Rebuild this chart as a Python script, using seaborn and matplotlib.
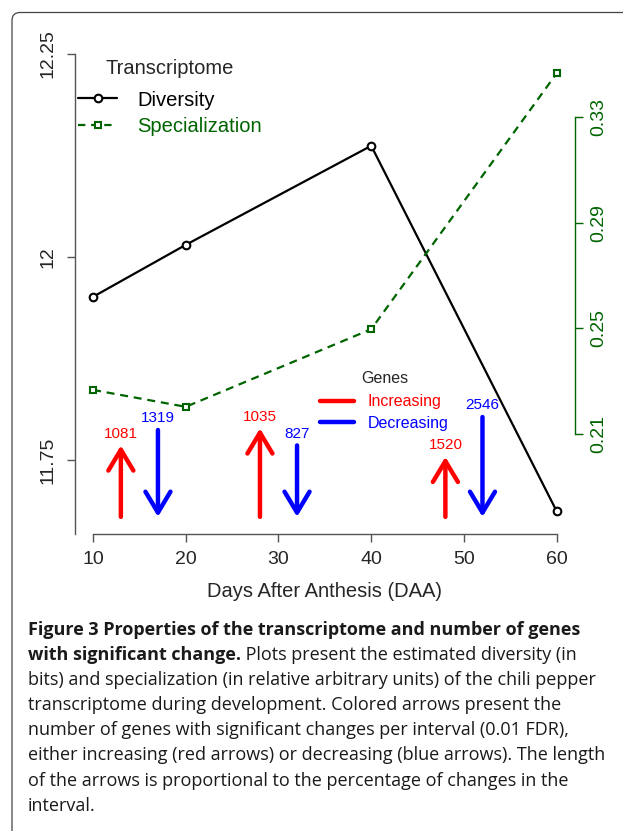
import numpy as np
import pandas as pd
import matplotlib
matplotlib.use("Agg")
import matplotlib.pyplot as plt
import seaborn as sns
from matplotlib.lines import Line2D
from matplotlib.patches import FancyBboxPatch
from matplotlib.transforms import IdentityTransform

# data
days = [10, 20, 40, 60]
diversity = [11.951, 12.015, 12.137, 11.687]
specialization = [0.2267, 0.2203, 0.2497, 0.3466]

inc_x = [13, 28, 48]
inc_n = [1081, 1035, 1520]
inc_top = [11.768, 11.789, 11.754]
dec_x = [17, 32, 52]
dec_n = [1319, 827, 2546]
dec_top = [11.787, 11.768, 11.803]
arrow_base = 11.680

left_ticks = [11.75, 12, 12.25]
left_labels = ["11.75", "12", "12.25"]
right_ticks = [0.21, 0.25, 0.29, 0.33]
right_labels = ["0.21", "0.25", "0.29", "0.33"]

caption = [
    ("Figure 3 Properties of the transcriptome and number of genes", ""),
    ("with significant change.", " Plots present the estimated diversity (in"),
    ("", "bits) and specialization (in relative arbitrary units) of the chili pepper"),
    ("", "transcriptome during development. Colored arrows present the"),
    ("", "number of genes with significant changes per interval (0.01 FDR),"),
    ("", "either increasing (red arrows) or decreasing (blue arrows). The length"),
    ("", "of the arrows is proportional to the percentage of changes in the"),
    ("", "interval."),
]

GREEN = "#006400"
W, H = 623, 831

sns.set_theme(style="white")
plt.rcParams["font.family"] = ["Liberation Sans", "DejaVu Sans"]

df = pd.DataFrame({"day": days, "div": diversity, "spec": specialization})

fig = plt.figure(figsize=(W / 100, H / 100), dpi=100)
ax = fig.add_axes([74.5 / W, 1 - 534 / H, (575.2 - 74.5) / W, (534 - 30) / H])
ax.set_facecolor("none")

sns.lineplot(data=df, x="day", y="div", ax=ax, color="black", lw=1.6,
             marker="o", markersize=5.5, markerfacecolor="white",
             markeredgecolor="black", markeredgewidth=1.5)
ax.set_xlim(8, 62)
ax.set_ylim(11.6589, 12.2796)

ax2 = ax.twinx()
sns.lineplot(data=df, x="day", y="spec", ax=ax2, color=GREEN, lw=1.6,
             marker="s", markersize=5, markerfacecolor="white",
             markeredgecolor=GREEN, markeredgewidth=1.5)
ax2.lines[0].set_dashes([3.6, 2.6])
ax2.set_ylim(0.17212, 0.36303)
ax2.set_xlim(8, 62)

for a in (ax, ax2):
    a.set_ylabel("")
    a.spines["top"].set_visible(False)
ax.spines["right"].set_visible(False)
ax2.spines["left"].set_visible(False)
ax2.spines["bottom"].set_visible(False)

ax.spines["left"].set_bounds(11.6589, 12.25)
ax.spines["bottom"].set_bounds(10, 60)
ax2.spines["right"].set_bounds(0.21, 0.33)
for s in ("left", "bottom"):
    ax.spines[s].set_color("#555555")
    ax.spines[s].set_linewidth(1.0)
ax2.spines["right"].set_color(GREEN)
ax2.spines["right"].set_linewidth(1.0)

ax.set_xticks([10, 20, 30, 40, 50, 60])
ax.set_xticklabels(["10", "20", "30", "40", "50", "60"])
ax.set_yticks(left_ticks)
ax.set_yticklabels(left_labels, rotation=90, va="center")
ax2.set_yticks(right_ticks)
ax2.set_yticklabels(right_labels, rotation=90, va="center", color=GREEN)
ax.tick_params(axis="both", which="both", length=6, width=1.0, color="#555555",
               labelsize=14, direction="out", left=True, bottom=True)
ax.tick_params(axis="y", pad=7)
ax.tick_params(axis="x", pad=6)
ax2.tick_params(axis="y", length=6, width=1.0, color=GREEN, labelsize=14,
                direction="out", right=True, pad=5, labelcolor=GREEN)
ax.set_xlabel("Days After Anthesis (DAA)", fontsize=14.5, labelpad=10)

# arrows for genes with significant change
for x, n, top in zip(inc_x, inc_n, inc_top):
    ax.annotate("", xy=(x, top), xytext=(x, arrow_base),
                arrowprops=dict(arrowstyle="->,head_length=0.75,head_width=0.45",
                                lw=3.2, color="red", shrinkA=0, shrinkB=0,
                                mutation_scale=20))
    ax.annotate(str(n), xy=(x, top), xytext=(0, 5.5), textcoords="offset points",
                ha="center", va="baseline", color="red", fontsize=11)
for x, n, top in zip(dec_x, dec_n, dec_top):
    ax.annotate("", xy=(x, arrow_base), xytext=(x, top),
                arrowprops=dict(arrowstyle="->,head_length=0.75,head_width=0.45",
                                lw=3.2, color="blue", shrinkA=0, shrinkB=0,
                                mutation_scale=20))
    ax.annotate(str(n), xy=(x, top), xytext=(0, 5.5), textcoords="offset points",
                ha="center", va="baseline", color="blue", fontsize=11)

# legends
h1 = Line2D([], [], color="black", lw=1.6, marker="o", markersize=5.5,
            markerfacecolor="white", markeredgewidth=1.5)
h2 = Line2D([], [], color=GREEN, lw=1.6, ls=(0, (3.3, 2.6)), marker="s", markersize=5,
            markerfacecolor="white", markeredgewidth=1.5)
leg1 = ax2.legend([h1, h2], ["Diversity", "Specialization"], title="Transcriptome",
                  loc="upper left", bbox_to_anchor=(78 / W, 1 - 59 / H),
                  bbox_transform=fig.transFigure, frameon=False, fontsize=14.5,
                  title_fontsize=14.5, handlelength=1.95, handletextpad=1.0,
                  labelspacing=0.36, borderpad=0, borderaxespad=0)
for t, c in zip(leg1.get_texts(), ["black", GREEN]):
    t.set_color(c)
leg1._legend_box.sep = 9

g1 = Line2D([], [], color="red", lw=3.2)
g2 = Line2D([], [], color="blue", lw=3.2)
leg2 = ax.legend([g1, g2], ["Increasing", "Decreasing"], title="Genes",
                 loc="upper left", bbox_to_anchor=(320 / W, 1 - 371 / H),
                 bbox_transform=fig.transFigure, frameon=False, fontsize=11.5,
                 title_fontsize=11.5, handlelength=2.1, handletextpad=0.9,
                 labelspacing=0.4, borderpad=0, borderaxespad=0)
for t, c in zip(leg2.get_texts(), ["red", "blue"]):
    t.set_color(c)
leg2._legend_box.sep = 6

# panel frame
frame = FancyBboxPatch((12, -30), 700, H - 12.5 + 30, boxstyle="round,pad=0,rounding_size=8",
                       transform=IdentityTransform(), fill=False, ec="#444444", lw=0.9)
fig.patches.append(frame)

# caption
cap_font = ["Open Sans", "DejaVu Sans"]
renderer = fig.canvas.get_renderer()
probe = fig.text(0, 0, caption[2][1], fontsize=10, family=cap_font)
fs = 10 * 571 / probe.get_window_extent(renderer).width
probe.remove()
y0 = 635
for i, (bold, rest) in enumerate(caption):
    yb = 1 - (y0 + i * 25.1) / H
    if bold:
        tb = fig.text(28 / W, yb, bold, fontsize=fs, family=cap_font,
                      fontweight="bold", va="baseline", color="#1a1a1a")
        if rest:
            fig.canvas.draw()
            ext = tb.get_window_extent(renderer)
            fig.text(ext.x1 / W, yb, rest, fontsize=fs, family=cap_font,
                     va="baseline", color="#1a1a1a")
    else:
        fig.text(28 / W, yb, rest, fontsize=fs, family=cap_font,
                 va="baseline", color="#1a1a1a")

fig.savefig("out.png", dpi=100)
